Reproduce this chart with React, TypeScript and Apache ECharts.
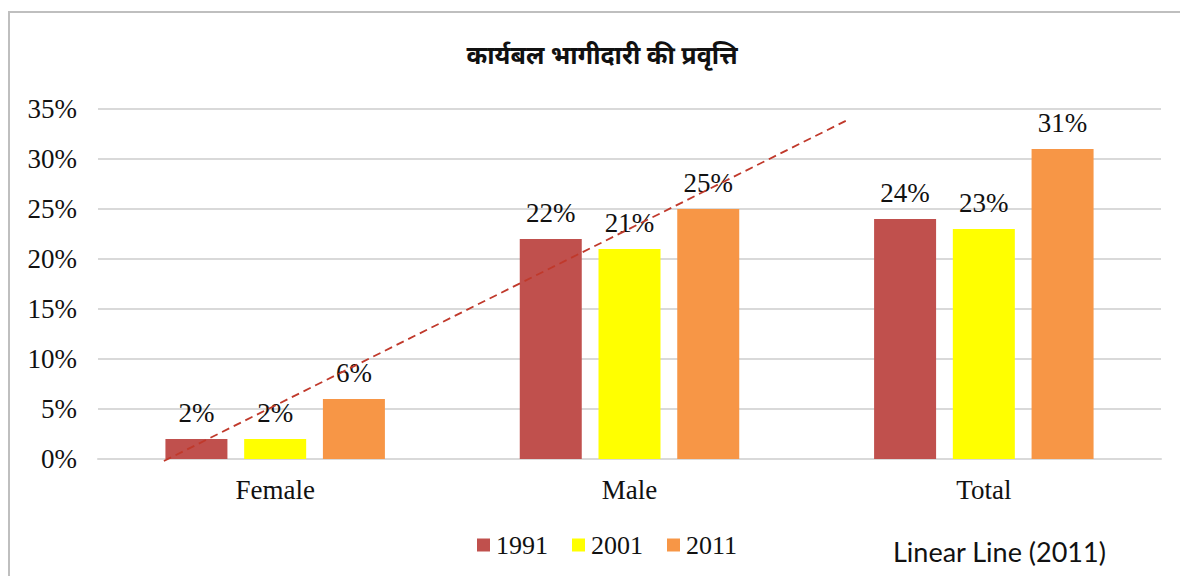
import React, { useEffect, useRef } from "react";
import * as echarts from "echarts";

const categories = ["Female", "Male", "Total"];
const seriesNames = ["1991", "2001", "2011"];
const values1991 = [2, 22, 24];
const values2001 = [2, 21, 23];
const values2011 = [6, 25, 31];
const colors = ["#C0504D", "#FFFF00", "#F79646"];
const trendX = [0.186, 2.115];
const trendY = [-0.2, 33.9];
const yTicks = { min: 0, max: 35, interval: 5 };
const title = "कार्यबल भागीदारी की प्रवृत्ति";
const noteText = "Linear Line (2011)";

const SERIF = "'Liberation Serif', 'Times New Roman', serif";

export default function App() {
  const ref = useRef<HTMLDivElement>(null);
  useEffect(() => {
    if (!ref.current) return;
    const chart = echarts.init(ref.current, null, { renderer: "svg" });
    const barData = [values1991, values2001, values2011];
    const bars = seriesNames.map((name, i) => ({
      name,
      type: "bar",
      data: barData[i],
      barWidth: 62,
      barGap: "27%",
      itemStyle: { color: colors[i] },
      label: {
        show: true,
        position: "top",
        distance: 13,
        formatter: "{c}%",
        fontFamily: SERIF,
        fontSize: 27,
        color: "#111",
      },
      z: 2,
    }));
    chart.setOption({
      animation: false,
      backgroundColor: "#ffffff",
      title: {
        text: title,
        left: 597,
        textAlign: "center",
        top: 36,
        textStyle: {
          fontFamily: "'Noto Sans', sans-serif",
          fontSize: 25,
          fontWeight: "bold",
          color: "#111",
        },
      },
      legend: {
        data: seriesNames,
        left: 477,
        top: 532,
        padding: 0,
        itemWidth: 13,
        itemHeight: 13,
        itemGap: 24,
        icon: "rect",
        textStyle: { fontFamily: SERIF, fontSize: 26, color: "#111", padding: [0, 0, 0, 1] },
      },
      grid: { left: 98, right: 19, top: 109, bottom: 117 },
      xAxis: [
        {
          type: "category",
          data: categories,
          axisTick: { show: false },
          axisLine: { lineStyle: { color: "#d9d9d9", width: 2 } },
          axisLabel: { fontFamily: SERIF, fontSize: 27, color: "#111", margin: 17 },
        },
        {
          type: "value",
          min: 0,
          max: 3,
          show: false,
        },
      ],
      yAxis: {
        type: "value",
        min: yTicks.min,
        max: yTicks.max,
        interval: yTicks.interval,
        axisLine: { show: false },
        axisTick: { show: false },
        splitLine: { lineStyle: { color: "#d9d9d9", width: 2 } },
        axisLabel: {
          formatter: "{value}%",
          fontFamily: SERIF,
          fontSize: 27,
          color: "#111",
          margin: 21,
        },
      },
      series: [
        ...bars,
        {
          name: "trend",
          type: "line",
          xAxisIndex: 1,
          data: trendX.map((x, i) => [x, trendY[i]]),
          symbol: "none",
          clip: false,
          lineStyle: { color: "#C0392B", width: 1.8, type: [8, 5] },
          z: 5,
        },
      ],
      graphic: [
        {
          type: "rect",
          shape: { x: 9, y: 12, width: 1300, height: 700 },
          style: { fill: "none", stroke: "#bfbfbf", lineWidth: 2 },
          z: -1,
        },
        {
          type: "text",
          x: 893,
          y: 551,
          style: {
            text: noteText,
            fontFamily: "Lato, 'Open Sans', sans-serif",
            fontSize: 27,
            fill: "#111",
            verticalAlign: "middle",
          },
        },
      ],
    });
    return () => chart.dispose();
  }, []);
  return (
    <div
      ref={ref}
      style={{ position: "absolute", left: 0, top: 0, width: 1180, height: 576 }}
    />
  );
}
